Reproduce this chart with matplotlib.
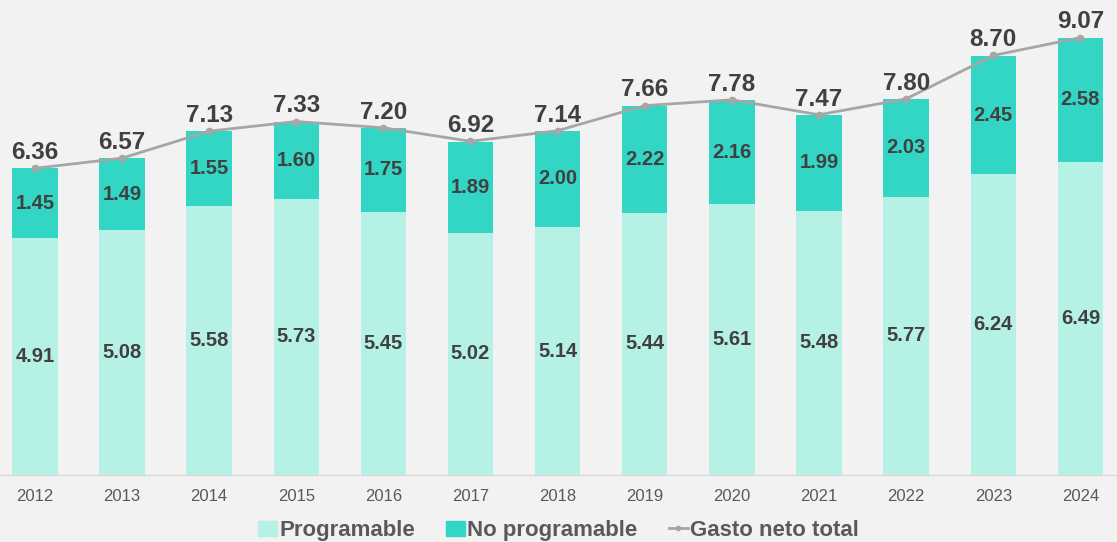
import numpy as np
import matplotlib.pyplot as plt
from matplotlib.patches import Patch
from matplotlib.lines import Line2D

plt.rcParams['font.family'] = ['Liberation Sans', 'DejaVu Sans']

years = ['2012', '2013', '2014', '2015', '2016', '2017', '2018',
         '2019', '2020', '2021', '2022', '2023', '2024']
programable = [4.91, 5.08, 5.58, 5.73, 5.45, 5.02, 5.14, 5.44, 5.61, 5.48, 5.77, 6.24, 6.49]
no_programable = [1.45, 1.49, 1.55, 1.60, 1.75, 1.89, 2.00, 2.22, 2.16, 1.99, 2.03, 2.45, 2.58]
total = [6.36, 6.57, 7.13, 7.33, 7.20, 6.92, 7.14, 7.66, 7.78, 7.47, 7.80, 8.70, 9.07]

c_prog = '#b6f1e6'
c_noprog = '#33d5c5'
c_line = '#a6a6a6'
c_text = '#404040'
bg = '#f2f2f2'

fig = plt.figure(figsize=(11.17, 5.42), dpi=100, facecolor=bg)
ax = fig.add_axes([0.0, 0.1236, 1.0, 0.8764])
ax.set_facecolor(bg)

x = np.arange(len(years))
w = 0.52
ax.bar(x, programable, w, color=c_prog, zorder=2)
ax.bar(x, no_programable, w, bottom=programable, color=c_noprog, zorder=2)
ax.plot(x, total, color=c_line, lw=2, marker='o', ms=4.5, zorder=3)

for i in range(len(years)):
    ax.text(x[i], programable[i] / 2, f'{programable[i]:.2f}', ha='center', va='center',
            fontsize=14.5, fontweight='bold', color=c_text, zorder=4)
    ax.text(x[i], programable[i] + no_programable[i] / 2, f'{no_programable[i]:.2f}',
            ha='center', va='center', fontsize=14.5, fontweight='bold', color=c_text, zorder=4)
    ax.annotate(f'{total[i]:.2f}', (x[i], total[i]), xytext=(0, 3), textcoords='offset points',
                ha='center', va='bottom', fontsize=17.5, fontweight='bold', color=c_text, zorder=4)

ax.set_xlim(-0.4, 12.42)
ax.set_ylim(0, 9.85)
ax.set_xticks(x)
ax.set_xticklabels(years, fontsize=12, color='#595959')
ax.tick_params(axis='x', length=0, pad=10)
ax.set_yticks([])
for s in ['top', 'left', 'right']:
    ax.spines[s].set_visible(False)
ax.spines['bottom'].set_color('#d9d9d9')
ax.spines['bottom'].set_linewidth(1)

handles = [Patch(color=c_prog, label='Programable'),
           Patch(color=c_noprog, label='No programable'),
           Line2D([0], [0], color=c_line, lw=2, marker='o', ms=3, label='Gasto neto total')]
leg = fig.legend(handles=handles, loc='lower center', bbox_to_anchor=(0.5, -0.035), ncol=3,
                 frameon=False, handlelength=0.85, handleheight=0.65, handletextpad=0.1,
                 columnspacing=1.4, prop={'size': 16, 'weight': 'bold'})
for t in leg.get_texts():
    t.set_color('#595959')

fig.savefig('out.png', dpi=100, facecolor=bg)
